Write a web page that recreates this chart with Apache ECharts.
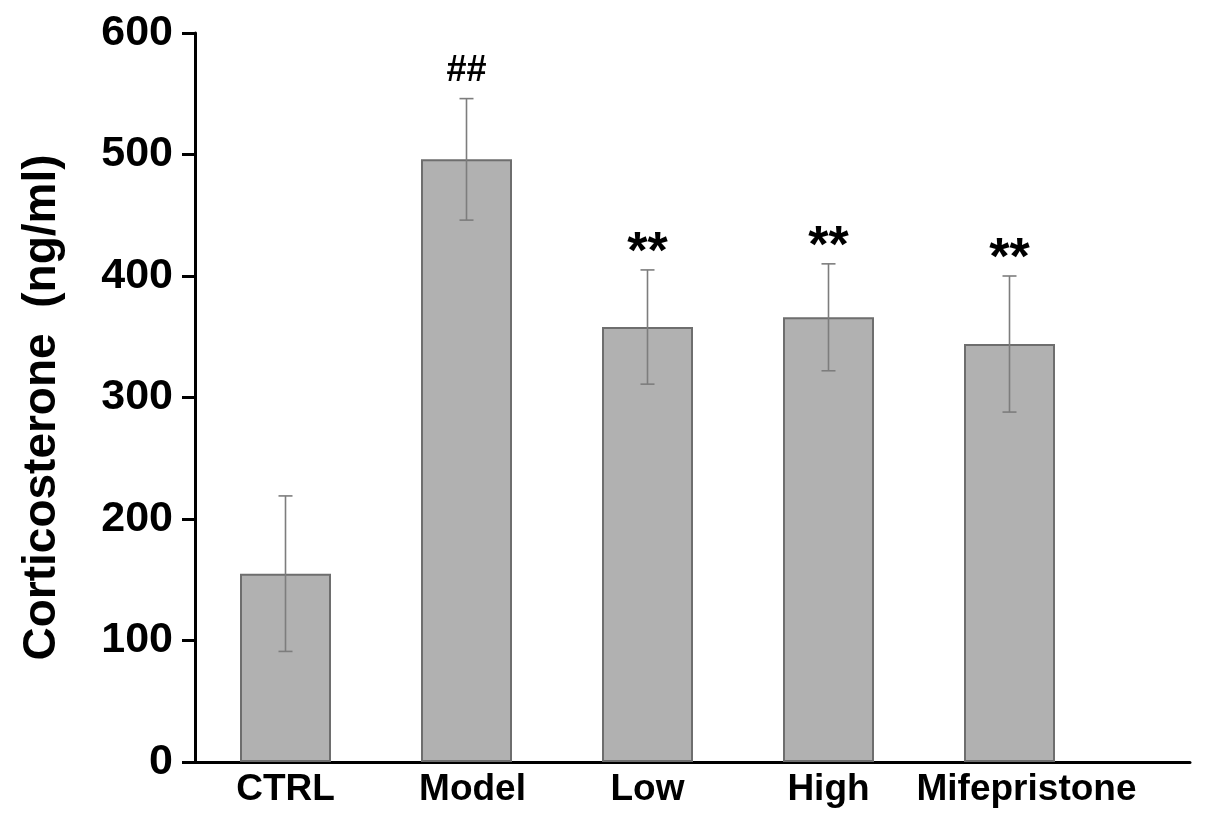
<!DOCTYPE html>
<html>
<head>
<meta charset="UTF-8">
<title>Corticosterone</title>
<script type="text/javascript" src="https://cdn.jsdelivr.net/npm/echarts@6/dist/echarts.min.js"></script>
<style>
	html, body { margin: 0; padding: 0; background: #fff; }
	#main { width: 1205px; height: 820px; }
</style>
</head>
<body>
	<div id="main"></div>
	<script type="text/javascript">
		// data
		var categories = ['CTRL', 'Model', 'Low', 'High', 'Mifepristone'];
		var means = [155, 496, 358, 366, 344];
		var sds = [64, 50, 47, 44, 56];
		var marks = ['', '##', '**', '**', '**'];
		var yTicks = [0, 100, 200, 300, 400, 500, 600];

		var FONT = "'Liberation Sans', Arial, sans-serif";
		var myChart = echarts.init(document.getElementById('main'));

		var errData = [];
		for (var i = 0; i < categories.length; i++) {
			errData.push([i, means[i], sds[i]]);
		}

		// labels are not all centred under the bars in the figure
		var catData = categories.map(function (c) {
			if (c === 'Mifepristone') return { value: c, textStyle: { padding: [0, 0, 0, 34] } };
			if (c === 'Model') return { value: c, textStyle: { padding: [0, 0, 0, 12] } };
			return c;
		});

		function renderErr(params, api) {
			var m = api.value(1), s = api.value(2);
			var top = api.coord([api.value(0), m + s]);
			var bot = api.coord([api.value(0), m - s]);
			var x = top[0], hw = 7;
			var st = { stroke: '#7d7d7d', lineWidth: 1.6 };
			var kids = [
				{ type: 'line', shape: { x1: x, y1: top[1], x2: x, y2: bot[1] }, style: st },
				{ type: 'line', shape: { x1: x - hw, y1: top[1], x2: x + hw, y2: top[1] }, style: st },
				{ type: 'line', shape: { x1: x - hw, y1: bot[1], x2: x + hw, y2: bot[1] }, style: st }
			];
			var mk = marks[params.dataIndex];
			if (mk) {
				var star = mk === '**';
				kids.push({
					type: 'text',
					style: {
						text: mk,
						x: x,
						y: top[1] - (star ? 16 : 28),
						align: 'center',
						verticalAlign: 'middle',
						fill: '#000',
						font: (star ? 'bold 52px ' : 'bold 36px ') + FONT
					}
				});
			}
			return { type: 'group', children: kids };
		}

		option = {
			animation: false,
			backgroundColor: '#fff',
			grid: [
				{ left: 195, right: 105, top: 33, bottom: 58 },
				{ left: 195, right: 15, top: 33, bottom: 58 }
			],
			xAxis: [
				{
					type: 'category',
					data: catData,
					axisLine: { show: false },
					axisTick: { show: false },
					axisLabel: {
						margin: 9,
						color: '#000',
						fontFamily: FONT,
						fontWeight: 'bold',
						fontSize: 37,
						interval: 0
					}
				},
				{
					type: 'value',
					gridIndex: 1,
					min: 0, max: 1,
					axisLine: { show: true, lineStyle: { color: '#000', width: 3 } },
					axisTick: { show: false },
					axisLabel: { show: false },
					splitLine: { show: false }
				}
			],
			yAxis: [
				{
					type: 'value',
					min: yTicks[0],
					max: yTicks[yTicks.length - 1],
					interval: 100,
					name: 'Corticosterone  (ng/ml)',
					nameLocation: 'middle',
					nameGap: 130,
					nameTextStyle: {
						color: '#000',
						fontFamily: FONT,
						fontWeight: 'bold',
						fontSize: 46,
						padding: [0, 20, 0, 0]
					},
					axisLine: { show: true, lineStyle: { color: '#000', width: 3 } },
					axisTick: { show: true, inside: false, length: 13, lineStyle: { color: '#000', width: 3 } },
					axisLabel: {
						margin: 22,
						color: '#000',
						fontFamily: FONT,
						fontWeight: 'bold',
						fontSize: 43
					},
					splitLine: { show: false }
				},
				{
					type: 'value',
					gridIndex: 1,
					show: false
				}
			],
			series: [
				{
					name: 'Corticosterone',
					type: 'bar',
					data: means,
					barWidth: 91,
					itemStyle: { color: '#b1b1b1', borderColor: '#6e6e6e', borderWidth: 2 },
					z: 2
				},
				{
					type: 'custom',
					data: errData,
					renderItem: renderErr,
					encode: { x: 0, y: 1 },
					z: 5,
					silent: true
				}
			]
		};

		myChart.setOption(option);
		window.onresize = myChart.resize;
	</script>
</body>
</html>
